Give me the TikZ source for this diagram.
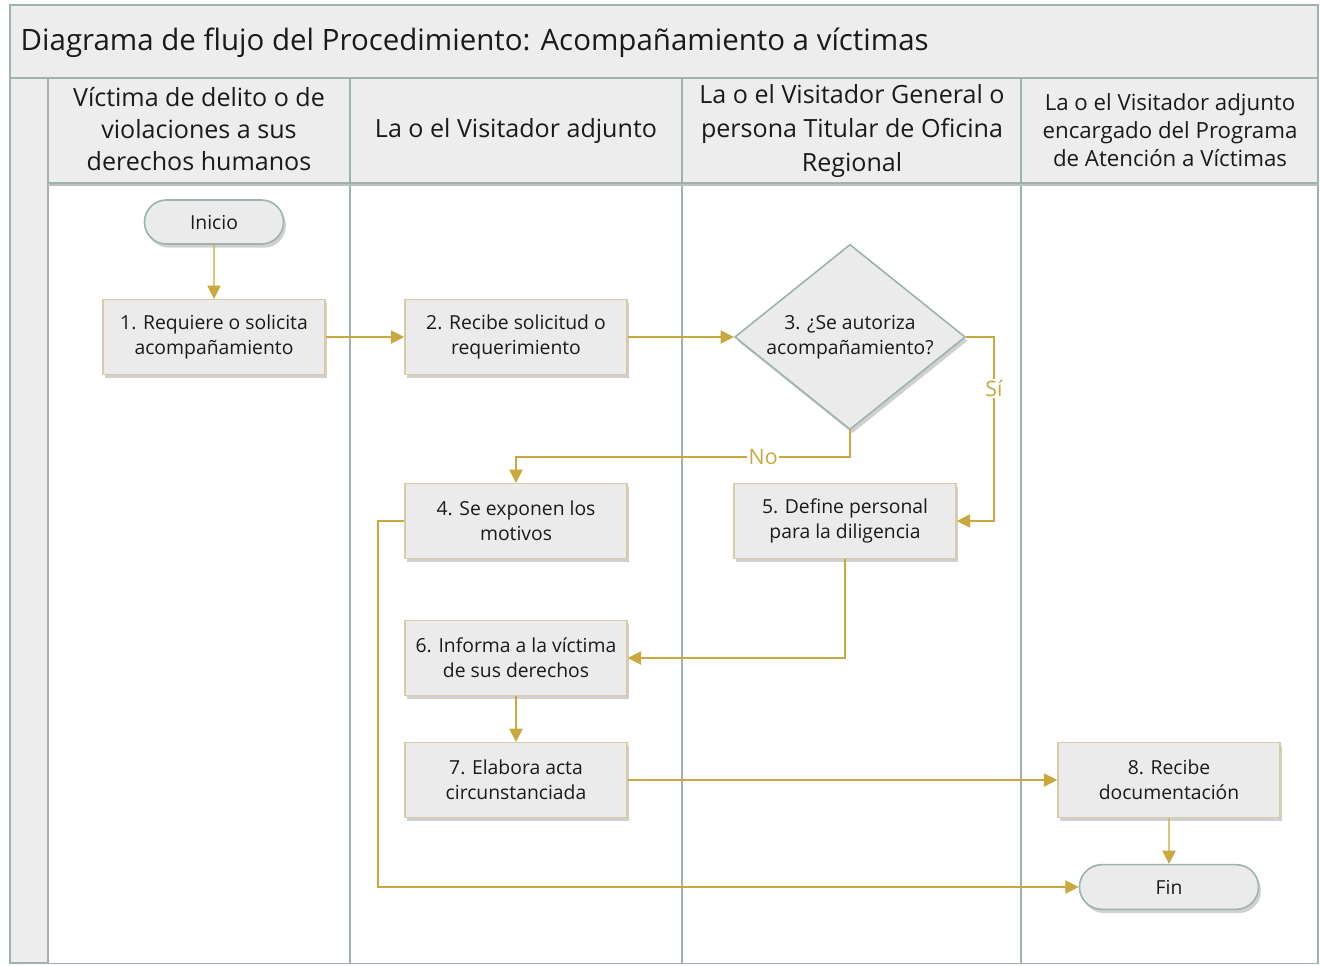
\documentclass[tikz,border=0pt]{standalone}
\usepackage{fontspec}
\setmainfont{Open Sans}
\usetikzlibrary{shapes.geometric,shapes.misc,arrows.meta,shadows}
\definecolor{frame}{HTML}{9DB3AB}
\definecolor{hdrfill}{HTML}{EDEDED}
\definecolor{boxfill}{HTML}{EBEBEB}
\definecolor{boxbd}{HTML}{D6CCA6}
\definecolor{gold}{HTML}{C9A93E}
\definecolor{ink}{HTML}{1A1A1A}
\tikzset{
  lane/.style={draw=frame, line width=1.5pt, fill=hdrfill},
  shad/.style={drop shadow={shadow xshift=1.8pt, shadow yshift=-2.8pt, fill=black!60, opacity=0.3}},
  proc/.style={draw=boxbd, line width=1.2pt, fill=boxfill, shad, minimum width=166.5pt, minimum height=56pt,
    align=center, text=ink, font=\fontsize{14.5}{18.8}\selectfont, inner sep=2pt},
  term/.style={rounded rectangle, draw=frame, line width=1.2pt, fill=boxfill, shad, align=center, text=ink,
    font=\fontsize{14.5}{18.8}\selectfont},
  dec/.style={diamond, draw=frame, line width=1.2pt, fill=boxfill, shad, minimum width=173pt, minimum height=139pt,
    inner sep=0pt, shape aspect=1.25, align=center, text=ink, font=\fontsize{14.5}{18.8}\selectfont},
  hdr/.style={align=center, text=ink, font=\fontsize{18.8}{24}\selectfont},
  flow/.style={draw=gold, line width=0.9pt, -{Triangle[length=10pt,width=10pt]}},
  lbl/.style={text=gold, fill=white, inner sep=1pt, font=\fontsize{16}{18}\selectfont},
}
\begin{document}
\begin{tikzpicture}[x=0.75pt,y=-0.75pt]
\useasboundingbox (0,0) rectangle (1320,965);
% frame and lanes
\fill[white] (0,0) rectangle (1320,965);
\draw[lane] (10,5) rectangle (1318,963);
\draw[lane] (10,5) rectangle (1318,78);
\draw[lane] (10,78) rectangle (48,963);
\fill[white] (48,183) rectangle (1318,963);
\foreach \a/\b in {48/350,350/682,682/1021,1021/1318}{
  \draw[lane] (\a,78) rectangle (\b,183);
  \draw[draw=frame, line width=1.5pt] (\a,183) -- (\a,963);
}
\draw[draw=frame, line width=1.5pt] (1318,183) -- (1318,963);
\draw[draw=black!25, line width=1.5pt] (48,185) -- (1318,185);
\node[anchor=west, text=ink, font=\fontsize{22.1}{26}\selectfont] (title) at (16,43) {Diagrama de flujo del Procedimiento: Acompañamiento a víctimas};
\node[hdr] (h1) at (199,129) {Víctima de delito o de\\violaciones a sus\\derechos humanos};
\node[hdr] (h2) at (516,131) {La o el Visitador adjunto};
\node[hdr, font=\fontsize{18.8}{25.5}\selectfont] (h3) at (852,131) {La o el Visitador General o\\persona Titular de Oficina\\Regional};
\node[hdr, font=\fontsize{16.7}{21}\selectfont] (h4) at (1170,130) {La o el Visitador adjunto\\encargado del Programa\\de Atención a Víctimas};
% nodes
\node[term, minimum width=111pt, minimum height=33pt] (ini) at (214,222) {Inicio};
\node[proc] (n1) at (214,337) {1. Requiere o solicita\\acompañamiento};
\node[proc] (n2) at (516,337) {2. Recibe solicitud o\\requerimiento};
\node[dec] (n3) at (850,337) {3. ¿Se autoriza\\acompañamiento?};
\node[proc] (n4) at (516,521) {4. Se exponen los\\motivos};
\node[proc] (n5) at (845,521) {5. Define personal\\para la diligencia};
\node[proc] (n6) at (516,658) {6. Informa a la víctima\\de sus derechos};
\node[proc] (n7) at (516,780) {7. Elabora acta\\circunstanciada};
\node[proc] (n8) at (1169,780) {8. Recibe\\documentación};
\node[term, minimum width=141pt, minimum height=33.5pt] (fin) at (1169,887) {Fin};
% connectors
\coordinate (c3r) at (994,337);
\coordinate (c3b) at (850,457);
\coordinate (c4l) at (378,521);
\draw[flow] (ini) -- (n1);
\draw[flow] (n1) -- (n2);
\draw[flow] (n2) -- (n3);
\draw[flow] (n3.east) -- (c3r) -- node[lbl, pos=0.28] {Sí} (c3r |- n5.east) -- (n5.east);
\draw[flow] (n3.south) -- (c3b) -- node[lbl, pos=0.26] {No} (c3b -| n4.north) -- (n4.north);
\draw[flow] (n5.south) |- (n6.east);
\draw[flow] (n6) -- (n7);
\draw[flow] (n7) -- (n8);
\draw[flow] (n8) -- (fin);
\draw[flow] (n4.west) -- (c4l) -- (c4l |- fin.west) -- (fin.west);
\end{tikzpicture}
\end{document}
